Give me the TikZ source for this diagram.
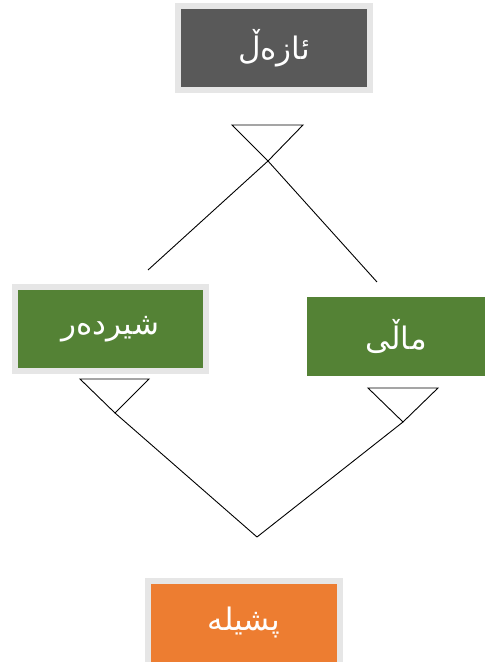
\documentclass[tikz,border=0pt]{standalone}
\usepackage{fontspec}
\newfontfamily\arabicfont[Script=Arabic]{DejaVu Sans}
\TeXXeTstate=1
\definecolor{boxgray}{HTML}{595959}
\definecolor{boxgreen}{HTML}{548235}
\definecolor{boxorange}{HTML}{ED7D31}
\definecolor{rimgray}{HTML}{E6E6E6}
\begin{document}
\begin{tikzpicture}[x=1pt,y=1pt]
\useasboundingbox (0,0) rectangle (485,662);
\tikzset{
  box/.style={rectangle, inner sep=0pt, text=white,
    font=\arabicfont\fontsize{31}{36}\selectfont},
  rimbox/.style={box, draw=rimgray, line width=6pt},
  link/.style={draw=black, line width=0.9pt},
  tri/.style={draw=black, line width=0.9pt, fill=white, line join=miter}
}
% boxes
\node[rimbox, fill=boxgray, minimum width=192pt, minimum height=84pt] (animal) at (274,614) {\beginR ئازەڵ\endR};
\node[rimbox, fill=boxgreen, minimum width=191pt, minimum height=84pt] (mammal) at (110.5,333) {\beginR شیردەر\endR};
\node[box, fill=boxgreen, minimum width=178pt, minimum height=79pt] (domestic) at (396,325.5) {\beginR ماڵی\endR};
\node[rimbox, fill=boxorange, minimum width=192pt, minimum height=84pt] (cat) at (244,39) {\beginR پشیلە\endR};
% triangle apexes and free ends
\coordinate (ta) at (268,501);
\coordinate (la) at (115,249);
\coordinate (ra) at (403,240);
\coordinate (lend) at (148,392);
\coordinate (rend) at (377,380);
\coordinate (vtip) at (257,125);
% connectors
\draw[link] (ta) -- (lend);
\draw[link] (ta) -- (rend);
\draw[link] (la) -- (vtip);
\draw[link] (ra) -- (vtip);
% triangles
\draw[tri] (232,537) -- (303,537) -- (ta) -- cycle;
\draw[tri] (80,283) -- (149,283) -- (la) -- cycle;
\draw[tri] (368,274) -- (438,274) -- (ra) -- cycle;
\end{tikzpicture}
\end{document}
